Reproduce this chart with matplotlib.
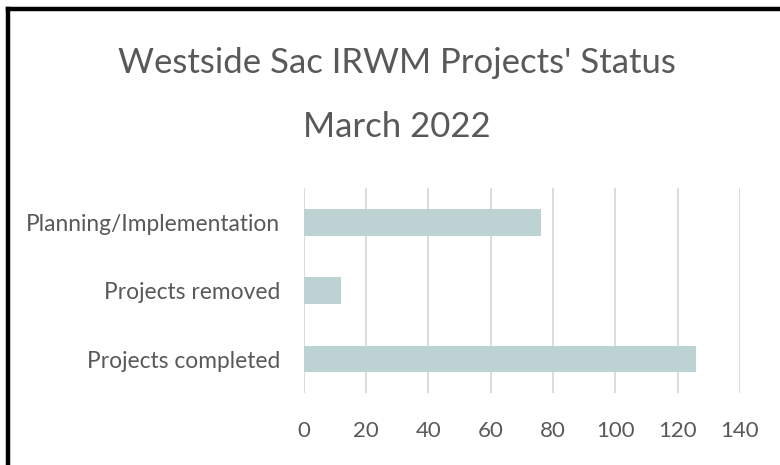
import matplotlib
matplotlib.use("Agg")
import matplotlib.pyplot as plt
from matplotlib.lines import Line2D

categories = ["Projects completed", "Projects removed", "Planning/Implementation"]
values = [126, 12, 76]
xticks = [0, 20, 40, 60, 80, 100, 120, 140]
title_line1 = "Westside Sac IRWM Projects' Status"
title_line2 = "March 2022"

W, H = 780, 465
plt.rcParams['font.family'] = ['Lato', 'DejaVu Sans']
fig = plt.figure(figsize=(W / 100, H / 100), dpi=100)
fig.patch.set_facecolor("white")

ax = fig.add_axes([303.7 / W, 1 - 393.3 / H, 436.3 / W, 205 / H])
ax.barh(range(len(categories)), values, height=0.39, color="#BDD3D3", zorder=3)
ax.set_xlim(0, 140)
ax.set_ylim(-0.5, len(categories) - 0.5)
ax.set_xticks(xticks)
ax.set_xticklabels([str(t) for t in xticks])
ax.set_yticks(range(len(categories)))
ax.set_yticklabels(categories)
ax.grid(axis="x", color="#D9D9D9", linewidth=1.3, zorder=0)
for s in ax.spines.values():
    s.set_visible(False)
ax.tick_params(axis="both", length=0, colors="#595959")
ax.tick_params(axis="x", labelsize=16, pad=20)
ax.tick_params(axis="y", labelsize=16.4, pad=17)

fig.text(397 / W, 1 - 73 / H, title_line1, ha="center", va="baseline",
         fontsize=25, color="#595959")
fig.text(397 / W, 1 - 137 / H, title_line2, ha="center", va="baseline",
         fontsize=25, color="#595959")

# outer frame (top and left edges)
fig.add_artist(Line2D([8 / W, 8 / W], [0, 1 - 9 / H], transform=fig.transFigure,
                      color="black", linewidth=3.2))
fig.add_artist(Line2D([8 / W, 1], [1 - 9 / H, 1 - 9 / H], transform=fig.transFigure,
                      color="black", linewidth=3.2))

fig.savefig("out.png", dpi=100)
